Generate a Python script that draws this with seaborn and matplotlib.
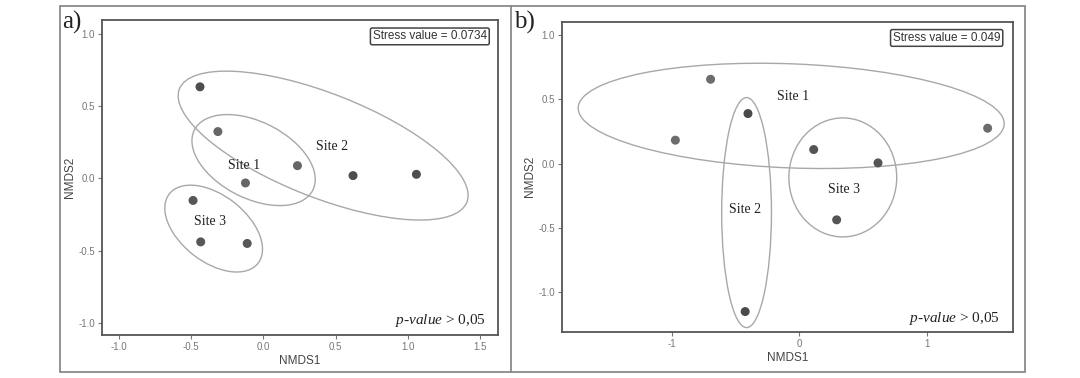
import numpy as np
import pandas as pd
import matplotlib
matplotlib.use("Agg")
import matplotlib.pyplot as plt
import seaborn as sns
from matplotlib.patches import Ellipse, Rectangle
from matplotlib.lines import Line2D

# ---- data ----
# panel a
a_site = ["Site 1", "Site 1", "Site 1", "Site 2", "Site 2", "Site 2", "Site 3", "Site 3", "Site 3"]
a_nmds1 = [-0.315, -0.124, 0.236, -0.439, 0.621, 1.060, -0.487, -0.434, -0.112]
a_nmds2 = [0.324, -0.032, 0.088, 0.634, 0.019, 0.028, -0.153, -0.440, -0.451]
# panel b
b_site = ["Site 1", "Site 1", "Site 1", "Site 2", "Site 2", "Site 3", "Site 3", "Site 3"]
b_nmds1 = [-0.696, -0.972, 1.475, -0.403, -0.425, 0.112, 0.616, 0.292]
b_nmds2 = [0.656, 0.182, 0.275, 0.389, -1.152, 0.109, 0.005, -0.438]

sites = ["Site 1", "Site 2", "Site 3"]
# ellipse shape per site (full width, full height along axes, angle in degrees)
a_ell_width = [0.92, 2.14, 0.78]
a_ell_height = [0.53, 0.72, 0.46]
a_ell_angle = [-27, -21.5, -38]
b_ell_width = [3.34, 0.39, 0.845]
b_ell_height = [0.81, 1.79, 0.926]
b_ell_angle = [-2.2, 0, 0]

# label positions
a_lab_x = [-0.136, 0.477, -0.368]
a_lab_y = [0.090, 0.222, -0.296]
b_lab_x = [-0.047, -0.422, 0.351]
b_lab_y = [0.521, -0.355, -0.200]

a_stress = "Stress value = 0.0734"
b_stress = "Stress value = 0.049"

sns.set_style("ticks")
plt.rcParams["font.family"] = ["Liberation Sans", "DejaVu Sans"]
plt.rcParams["mathtext.fontset"] = "custom"
plt.rcParams["mathtext.it"] = "Liberation Serif:italic"
plt.rcParams["mathtext.rm"] = "Liberation Serif"

fig = plt.figure(figsize=(10.8, 3.78), dpi=100)
fig.patch.set_facecolor("white")

ax_a = fig.add_axes([0.0944, 0.1138, 0.3667, 0.8333])
ax_b = fig.add_axes([0.5204, 0.1217, 0.4176, 0.8209])

frame_col = "#8a8a8a"
spine_col = "#555555"
tick_col = "#777777"

def draw_panel(ax, site, x, y, widths, heights, angles, lab_x, lab_y, stress,
               xlim, ylim, xticks, yticks, xfmt, palette):
    df = pd.DataFrame({"site": site, "NMDS1": x, "NMDS2": y})
    sns.scatterplot(data=df, x="NMDS1", y="NMDS2", hue="site", palette=palette,
                    s=42, edgecolor="none", legend=False, ax=ax, zorder=3)
    means = df.groupby("site")[["NMDS1", "NMDS2"]].mean()
    for i, s in enumerate(sites):
        e = Ellipse((means.loc[s, "NMDS1"], means.loc[s, "NMDS2"]), widths[i], heights[i],
                    angle=angles[i], fill=False, edgecolor="#a8a8a8", lw=1.0, zorder=2)
        ax.add_patch(e)
        ax.text(lab_x[i], lab_y[i], s, family="Liberation Serif", fontsize=10,
                color="#222222", ha="center", va="center", zorder=4)
    ax.set_xlim(*xlim)
    ax.set_ylim(*ylim)
    ax.set_xticks(xticks)
    ax.set_yticks(yticks)
    ax.set_xticklabels([xfmt.format(v) for v in xticks])
    ax.set_yticklabels(["{:.1f}".format(v) for v in yticks])
    ax.tick_params(labelsize=7, colors=tick_col, length=3, width=0.8, pad=2)
    ax.set_xlabel("NMDS1", fontsize=8.5, color="#444444", labelpad=2)
    ax.set_ylabel("NMDS2", fontsize=8.5, color="#444444", labelpad=2)
    for sp in ax.spines.values():
        sp.set_visible(True)
        sp.set_color(spine_col)
        sp.set_linewidth(1.3)
    ax.text(0.972, 0.967, stress, transform=ax.transAxes, ha="right", va="top",
            fontsize=8.5, color="#333333",
            bbox=dict(boxstyle="round,pad=0.2,rounding_size=0.15", fc="white",
                      ec="#444444", lw=1.1))
    ax.text(0.97, 0.045, r"$p$-$value$ > 0,05", transform=ax.transAxes, ha="right",
            va="center", family="Liberation Serif", fontsize=11, color="#222222")

draw_panel(ax_a, a_site, a_nmds1, a_nmds2, a_ell_width, a_ell_height, a_ell_angle,
           a_lab_x, a_lab_y, a_stress, (-1.118, 1.625), (-1.085, 1.097),
           [-1.0, -0.5, 0.0, 0.5, 1.0, 1.5], [-1.0, -0.5, 0.0, 0.5, 1.0], "{:.1f}",
           {"Site 1": "#666666", "Site 2": "#4e4e4e", "Site 3": "#575757"})
draw_panel(ax_b, b_site, b_nmds1, b_nmds2, b_ell_width, b_ell_height, b_ell_angle,
           b_lab_x, b_lab_y, b_stress, (-1.86, 1.674), (-1.311, 1.104),
           [-1, 0, 1], [-1.0, -0.5, 0.0, 0.5, 1.0], "{:.0f}",
           {"Site 1": "#6c6c6c", "Site 2": "#4a4a4a", "Site 3": "#555555"})

# outer frame and divider
fig.add_artist(Rectangle((60 / 1080, 6 / 378), 965 / 1080, 366 / 378,
                         transform=fig.transFigure, fill=False, ec=frame_col, lw=1.3))
fig.add_artist(Line2D([511 / 1080, 511 / 1080], [6 / 378, 372 / 378],
                      transform=fig.transFigure, color=frame_col, lw=1.3))

fig.text(62 / 1080, 1 - 22 / 378, "a)", family="Liberation Serif", fontsize=18,
         color="#222222", va="center", ha="left")
fig.text(514 / 1080, 1 - 22 / 378, "b)", family="Liberation Serif", fontsize=18,
         color="#222222", va="center", ha="left")

fig.savefig("out.png", dpi=100, facecolor="white")
